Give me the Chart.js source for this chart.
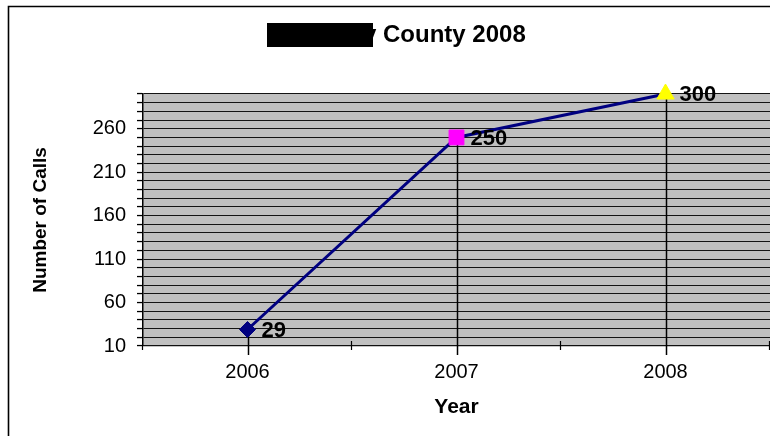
<!DOCTYPE html>
<html>
<head>
<meta charset="utf-8">
<script src="https://cdn.jsdelivr.net/npm/chart.js@4"></script>
<style>
  html, body { margin: 0; padding: 0; background: #fff; }
  #wrap { width: 770px; height: 436px; position: relative; }
</style>
</head>
<body>
<div id="wrap"><canvas id="c" width="770" height="436"></canvas></div>
<script>
// Calls per year
const years = ['2006', '2007', '2008'];
const calls = [29, 250, 300];
// Y values that carry a printed label (every 50, starting at 10)
const yLabeledTicks = [10, 60, 110, 160, 210, 260];
const chartTitle = 'y County 2008';
const yTitle = 'Number of Calls';
const xTitle = 'Year';

const FONT = "'Liberation Sans', Arial, sans-serif";

// Page background, grey plot area, frame and redacted title
const framePlugin = {
  id: 'frame',
  beforeDraw(chart) {
    const { ctx, chartArea: a } = chart;
    ctx.save();
    ctx.fillStyle = '#ffffff';
    ctx.fillRect(0, 0, chart.width, chart.height);
    ctx.fillStyle = '#c0c0c0';
    ctx.fillRect(a.left, a.top, a.right - a.left, a.bottom - a.top);
    ctx.restore();
  },
  afterDraw(chart) {
    const { ctx } = chart;
    ctx.save();
    // outer frame
    ctx.strokeStyle = '#000';
    ctx.lineWidth = 1.6;
    ctx.beginPath();
    ctx.moveTo(8.5, chart.height + 2);
    ctx.lineTo(8.5, 6.5);
    ctx.lineTo(chart.width + 2, 6.5);
    ctx.stroke();
    // title
    ctx.fillStyle = '#000';
    ctx.font = 'bold 24px ' + FONT;
    ctx.textBaseline = 'alphabetic';
    ctx.textAlign = 'left';
    ctx.fillText(chartTitle, 363, 42);
    // redaction block over the start of the title
    ctx.fillRect(267, 23, 106, 24);
    ctx.restore();
  }
};

// Vertical drop lines from each point to the axis, plus small category ticks
const dropLinePlugin = {
  id: 'dropLines',
  beforeDatasetsDraw(chart) {
    const { ctx } = chart;
    const xs = chart.scales.x;
    const meta = chart.getDatasetMeta(0);
    ctx.save();
    ctx.strokeStyle = '#000';
    ctx.lineWidth = 1.5;
    meta.data.forEach((p) => {
      const x = Math.round(p.x) + 0.5;
      ctx.beginPath();
      ctx.moveTo(x, p.y);
      ctx.lineTo(x, xs.top + 9);
      ctx.stroke();
    });
    const n = years.length;
    const w = (xs.right - xs.left) / n;
    ctx.lineWidth = 1.2;
    for (let i = 0; i <= n; i++) {
      const x = Math.round(xs.left + i * w) - 0.5;
      ctx.beginPath();
      ctx.moveTo(x, xs.top - (i === 0 ? 0 : 5));
      ctx.lineTo(x, xs.top + 4);
      ctx.stroke();
    }
    ctx.restore();
  }
};

// Value labels to the right of each marker
const valueLabelPlugin = {
  id: 'valueLabels',
  afterDatasetsDraw(chart) {
    const { ctx } = chart;
    const meta = chart.getDatasetMeta(0);
    ctx.save();
    ctx.font = 'bold 22px ' + FONT;
    ctx.fillStyle = '#000';
    ctx.textAlign = 'left';
    ctx.textBaseline = 'middle';
    meta.data.forEach((p, i) => {
      ctx.fillText(String(calls[i]), p.x + 14, p.y + 1);
    });
    ctx.restore();
  }
};

new Chart(document.getElementById('c'), {
  type: 'line',
  data: {
    labels: years,
    datasets: [{
      data: calls,
      clip: false,
      borderColor: '#000080',
      borderWidth: 3,
      fill: false,
      tension: 0,
      pointStyle: ['rectRot', 'rect', 'triangle'],
      pointRadius: [8, 10.5, 10],
      pointBackgroundColor: ['#000080', '#ff00ff', '#ffff00'],
      pointBorderColor: ['#000080', '#ff00ff', '#ffff00'],
      pointBorderWidth: 1
    }]
  },
  options: {
    responsive: false,
    animation: false,
    events: [],
    layout: { autoPadding: false, padding: { top: 94, left: 0, right: 0, bottom: 0 } },
    plugins: {
      legend: { display: false },
      title: { display: false },
      tooltip: { enabled: false }
    },
    scales: {
      x: {
        type: 'category',
        offset: true,
        afterFit(scale) {
          scale.height = 90;
          scale.paddingLeft = 0;
          scale.paddingRight = 0;
        },
        grid: { drawOnChartArea: false, drawTicks: false },
        border: { display: true, color: '#111', width: 1.2 },
        ticks: {
          color: '#000',
          font: { family: FONT, size: 20 },
          padding: 14,
          maxRotation: 0,
          autoSkip: false
        },
        title: {
          display: true,
          text: xTitle,
          color: '#000',
          font: { family: FONT, size: 21, weight: 'bold' },
          padding: { top: 0, bottom: 16 }
        }
      },
      y: {
        type: 'linear',
        min: 10,
        max: 300,
        afterFit(scale) { scale.width = 143; },
        grid: {
          color: '#141414',
          lineWidth: 1.1,
          drawTicks: true,
          tickLength: 6,
          tickColor: '#000',
          tickWidth: 1.3
        },
        border: { display: true, color: '#000', width: 1.5 },
        ticks: {
          stepSize: 10,
          autoSkip: false,
          color: '#000',
          font: { family: FONT, size: 20 },
          padding: 11,
          callback: (v) => (yLabeledTicks.includes(v) ? String(v) : '')
        },
        title: {
          display: true,
          text: yTitle,
          color: '#000',
          font: { family: FONT, size: 19, weight: 'bold' },
          padding: { top: 29, bottom: 0 }
        }
      }
    }
  },
  plugins: [framePlugin, dropLinePlugin, valueLabelPlugin]
});
</script>
</body>
</html>
